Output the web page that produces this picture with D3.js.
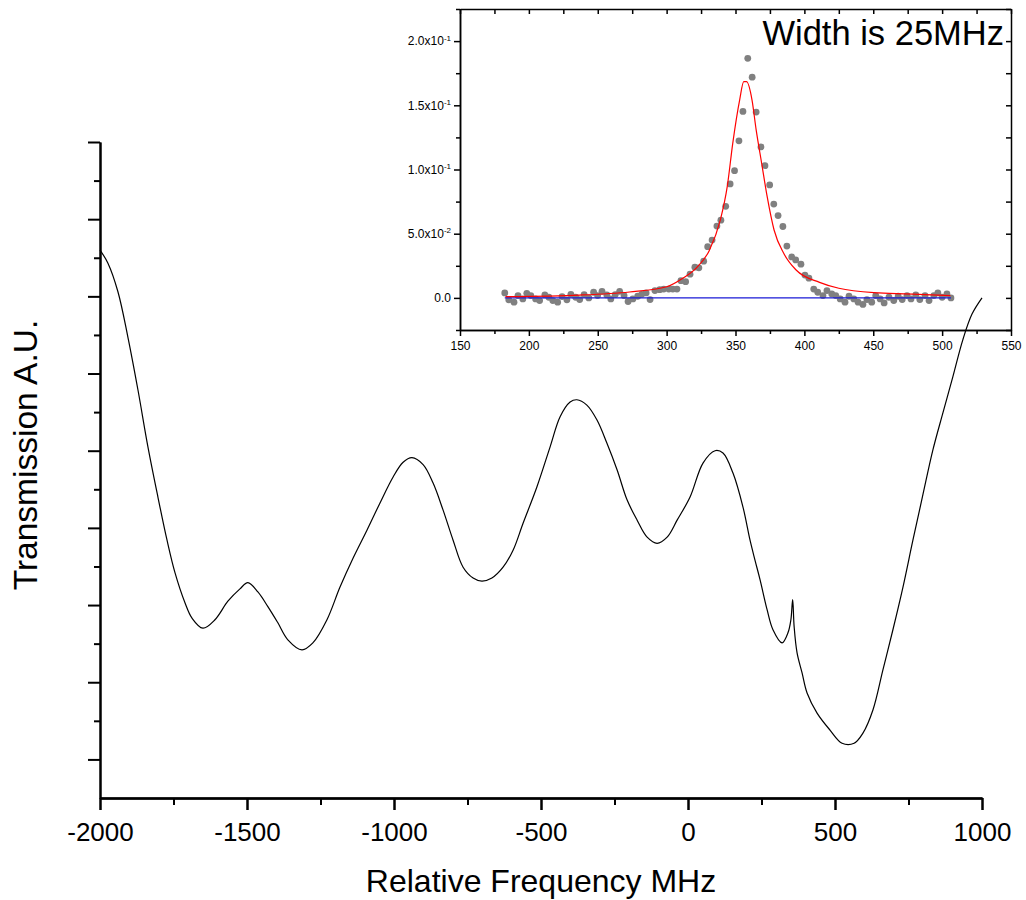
<!DOCTYPE html>
<html>
<head>
<meta charset="utf-8">
<script src="https://cdn.jsdelivr.net/npm/d3@7"></script>
<style>
  body { margin: 0; background: #fff; }
  svg { display: block; font-family: "Liberation Sans", Arial, sans-serif; }
</style>
</head>
<body>
<div id="chart"></div>
<script>
// main trace: transmission vs relative frequency (arbitrary units)
var freq = [-2000,-1973,-1939,-1905,-1871,-1837,-1803,-1772,-1745,-1711,
  -1687,-1650,-1609,-1565,-1524,-1497,-1463,-1429,-1395,-1361,
  -1313,-1276,-1228,-1184,-1139,-1092,-1048,-1003,-969,-939,
  -901,-867,-833,-799,-765,-731,-701,-667,-629,-595,
  -561,-514,-469,-435,-401,-378,-344,-310,-276,-241,
  -207,-173,-139,-105,-71,-37,7,51,92,119,
  153,187,211,228,245,269,289,320,340,350,
  356,361,371,388,405,439,483,524,565,595,
  629,663,697,731,765,799,833,867,901,935,
  966,1000];
var trans = [6.60,6.43,6.06,5.47,4.79,4.05,3.40,2.84,2.42,2.03,
  1.83,1.70,1.81,2.05,2.21,2.29,2.17,1.98,1.77,1.55,
  1.42,1.51,1.81,2.23,2.61,2.97,3.32,3.66,3.85,3.91,
  3.82,3.58,3.23,2.84,2.49,2.35,2.31,2.35,2.49,2.71,
  3.06,3.53,4.05,4.44,4.63,4.66,4.59,4.40,4.10,3.75,
  3.36,3.10,2.88,2.80,2.88,3.10,3.40,3.84,4.00,3.97,
  3.71,3.27,2.84,2.58,2.33,1.94,1.68,1.51,1.64,1.81,
  2.07,1.72,1.38,1.12,0.86,0.60,0.38,0.21,0.21,0.34,
  0.64,1.16,1.68,2.23,2.84,3.43,4.01,4.49,4.96,5.44,
  5.77,5.98];

var xTicks = [-2000,-1500,-1000,-500,0,500,1000];
var xMinor = [-1750,-1250,-750,-250,250,750];
var yTicks = [0,1,2,3,4,5,6,7,8];
var yMinor = [0.5,1.5,2.5,3.5,4.5,5.5,6.5,7.5];

// inset: measured points around the narrow peak
var insetFreq = [182.5,185.4,189.2,192.1,195.6,198.5,201.4,204.9,207.8,211.6,
  214.5,217.4,220.9,224.1,227.6,230.5,234.0,236.9,240.1,243.5,
  247.0,249.9,253.1,256.6,259.5,262.7,265.9,269.1,272.0,275.5,
  279.0,281.9,285.1,288.0,291.5,295.0,297.9,301.6,304.5,307.5,
  310.4,313.8,317.0,320.5,323.4,326.9,329.8,333.0,336.5,339.4,
  342.9,346.1,349.3,352.5,355.4,358.9,362.1,365.0,368.5,371.4,
  374.8,377.8,380.9,384.4,387.3,390.8,393.7,397.5,400.4,403.3,
  406.8,409.7,413.5,416.4,419.9,422.8,426.0,429.5,432.4,435.9,
  439.0,442.5,445.4,448.9,451.8,455.0,457.9,461.4,464.9,468.1,
  471.0,474.5,477.4,480.9,483.8,487.6,490.5,494.0,496.9,500.0,
  503.5,506.4];
var insetSignal = [0.0039,-0.0015,-0.0033,0.0018,-0.0008,0.0036,0.0018,-0.0008,-0.0021,0.0023,
  0.0005,-0.0021,-0.0033,0.0010,-0.0015,0.0028,0.0005,-0.0013,0.0026,0.0000,
  0.0044,0.0018,0.0051,0.0023,-0.0008,0.0026,0.0051,0.0018,-0.0028,-0.0008,
  0.0013,0.0028,0.0039,-0.0013,0.0057,0.0064,0.0069,0.0069,0.0069,0.0069,
  0.0134,0.0126,0.0185,0.0239,0.0234,0.0286,0.0399,0.0450,0.0559,0.0605,
  0.0713,0.0888,0.0991,0.1223,0.1452,0.1866,0.1719,0.1447,0.1176,0.1030,
  0.0880,0.0731,0.0641,0.0556,0.0404,0.0319,0.0296,0.0263,0.0178,0.0154,
  0.0069,0.0044,0.0018,0.0057,0.0031,0.0018,-0.0008,-0.0033,0.0013,-0.0008,
  -0.0033,-0.0051,-0.0013,-0.0033,0.0018,-0.0008,-0.0039,0.0005,-0.0021,0.0013,
  -0.0013,0.0018,-0.0008,0.0023,-0.0013,0.0018,-0.0021,0.0018,0.0039,0.0005,
  0.0031,0.0000];
// fitted curve
var fitFreq = [183,237,273,300,312,322,331,339,344,348,353,356,358,362,365,369,373,378,385,394,411,425,454,483,506];
var fitSignal = [0.0010,0.0022,0.0046,0.0087,0.0155,0.0238,0.0370,0.0607,0.0866,0.1204,0.1541,0.1684,0.1684,
  0.1541,0.1308,0.1048,0.0788,0.0529,0.0347,0.0217,0.0121,0.0075,0.0039,0.0028,0.0018];
var baseFreq = [182.5,506.4];
var baseSignal = [0,0];

var insetXTicks = [150,200,250,300,350,400,450,500,550];
var insetXMinor = [175,225,275,325,375,425,475,525];
var insetYTicks = [0,0.05,0.1,0.15,0.2];
var insetYMinor = [-0.025,0.025,0.075,0.125,0.175,0.225];
var insetYMant = ["0.0","5.0x10","1.0x10","1.5x10","2.0x10"];
var insetYExp = ["","-2","-1","-1","-1"];

var width = 1026, height = 900;
var svg = d3.select("#chart").append("svg")
  .attr("width", width).attr("height", height);
svg.append("rect").attr("width", width).attr("height", height).attr("fill", "#fff");

// ---------- main plot ----------
var x = d3.scaleLinear().domain([-2000, 1000]).range([100, 982]);
var y = d3.scaleLinear().domain([-0.5, 8]).range([798, 142]);

function styleAxis(g, w) {
  g.select(".domain").attr("stroke", "#000").attr("stroke-width", w);
  g.selectAll(".tick line").attr("stroke", "#000").attr("stroke-width", w);
}

var yMin = svg.append("g").attr("transform", "translate(100,0)")
  .call(d3.axisLeft(y).tickValues(yMinor).tickSize(6).tickSizeOuter(0).tickFormat(""));
styleAxis(yMin, 2);
var yAx = svg.append("g").attr("transform", "translate(100,0)")
  .call(d3.axisLeft(y).tickValues(yTicks).tickSize(12).tickSizeOuter(0).tickFormat(""));
styleAxis(yAx, 2);

var xMin = svg.append("g").attr("transform", "translate(0,798)")
  .call(d3.axisBottom(x).tickValues(xMinor).tickSize(7).tickSizeOuter(0).tickFormat(""));
styleAxis(xMin, 2);
var xAx = svg.append("g").attr("transform", "translate(0,798)")
  .call(d3.axisBottom(x).tickValues(xTicks).tickSize(12).tickSizeOuter(0).tickPadding(13)
    .tickFormat(function(d) { return String(d); }));
styleAxis(xAx, 2.5);
xAx.selectAll(".tick text").attr("font-size", 26).attr("fill", "#000")
  .attr("font-family", "Liberation Sans, Arial, sans-serif");

svg.append("text").attr("x", 541).attr("y", 892).attr("text-anchor", "middle")
  .attr("font-size", 32).text("Relative Frequency MHz");
svg.append("text").attr("transform", "translate(37,455) rotate(-90)")
  .attr("text-anchor", "middle").attr("font-size", 33.5).text("Transmission A.U.");

var line = d3.line().x(function(d) { return x(d[0]); }).y(function(d) { return y(d[1]); })
  .curve(d3.curveCatmullRom.alpha(0.5));
svg.append("path").datum(d3.zip(freq, trans))
  .attr("d", line).attr("fill", "none").attr("stroke", "#000").attr("stroke-width", 1.2);

// ---------- inset ----------
var ix = d3.scaleLinear().domain([150, 550]).range([460, 1011]);
var iy = d3.scaleLinear().domain([-0.025, 0.225]).range([330, 9]);

function iaxis(gen, tx, ty, vals, size) {
  var g = svg.append("g").attr("transform", "translate(" + tx + "," + ty + ")")
    .call(gen.tickValues(vals).tickSize(size).tickSizeOuter(0).tickFormat(""));
  styleAxis(g, 1.5);
  return g;
}
// bottom + left point outward, top + right point inward
iaxis(d3.axisBottom(ix), 0, 330, insetXMinor, 4);
var ixAx = svg.append("g").attr("transform", "translate(0,330)")
  .call(d3.axisBottom(ix).tickValues(insetXTicks).tickSize(6).tickSizeOuter(0).tickPadding(5));
styleAxis(ixAx, 1.5);
ixAx.selectAll(".tick text").attr("font-size", 12).attr("fill", "#000")
  .attr("font-family", "Liberation Sans, Arial, sans-serif");

iaxis(d3.axisBottom(ix), 0, 9, insetXTicks.concat(insetXMinor), 5);
iaxis(d3.axisLeft(iy), 460, 0, insetYMinor, 4);
iaxis(d3.axisLeft(iy), 1011, 0, insetYTicks.concat(insetYMinor), 5);

var iyAx = svg.append("g").attr("transform", "translate(460,0)")
  .call(d3.axisLeft(iy).tickValues(insetYTicks).tickSize(6).tickSizeOuter(0).tickPadding(3));
styleAxis(iyAx, 1.5);
iyAx.selectAll(".tick text").each(function(d, i) {
  var t = d3.select(this).text(null).attr("font-size", 12).attr("fill", "#000")
    .attr("font-family", "Liberation Sans, Arial, sans-serif");
  t.append("tspan").text(insetYMant[i]);
  if (insetYExp[i]) {
    t.append("tspan").attr("font-size", 8).attr("dy", "-0.6em").text(insetYExp[i]);
  }
});

svg.append("g").selectAll("circle").data(d3.zip(insetFreq, insetSignal)).join("circle")
  .attr("cx", function(d) { return ix(d[0]); })
  .attr("cy", function(d) { return iy(d[1]); })
  .attr("r", 3.4).attr("fill", "#808080");

var iline = d3.line().x(function(d) { return ix(d[0]); }).y(function(d) { return iy(d[1]); });
svg.append("path").datum(d3.zip(baseFreq, baseSignal))
  .attr("d", iline).attr("fill", "none").attr("stroke", "#1a1ad6").attr("stroke-width", 1.2);
svg.append("path").datum(d3.zip(fitFreq, fitSignal))
  .attr("d", iline.curve(d3.curveMonotoneX)).attr("fill", "none")
  .attr("stroke", "#ff0000").attr("stroke-width", 1.2);

svg.append("text").attr("x", 1004).attr("y", 45).attr("text-anchor", "end")
  .attr("font-size", 34.5).text("Width is 25MHz");
</script>
</body>
</html>
